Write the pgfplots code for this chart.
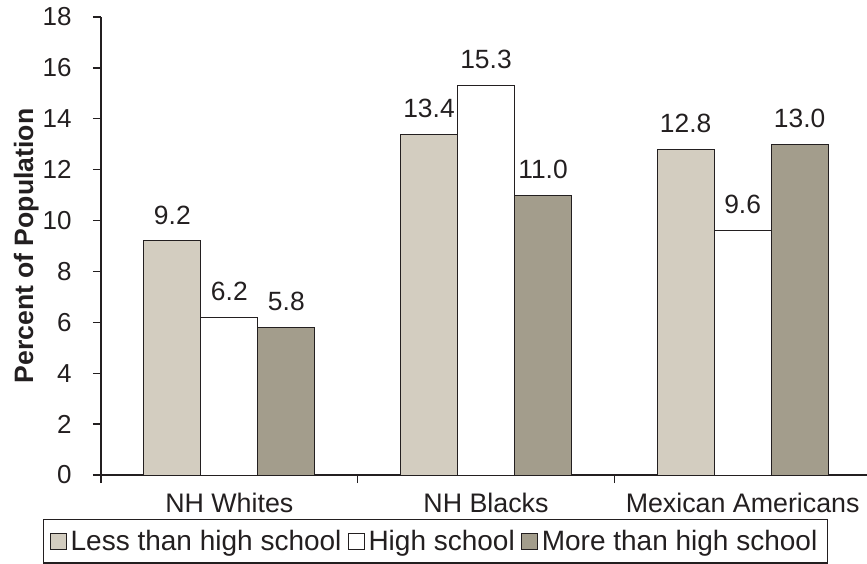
\documentclass[border=0pt]{standalone}
\usepackage{pgfplots}
\pgfplotsset{compat=1.18}
\usepackage{fontspec}
\setmainfont{Liberation Sans}
\definecolor{txt}{HTML}{231F20}
\definecolor{light}{HTML}{D3CDC0}
\definecolor{dark}{HTML}{A39D8C}
\begin{document}
\begin{tikzpicture}
\useasboundingbox (0,0) rectangle (433.5pt,281.5pt);
\begin{axis}[
  at={(50.5pt,44pt)}, anchor=south west,
  scale only axis, width=385pt, height=229pt,
  ybar=0pt, bar width=28.5pt,
  xmin=-0.5, xmax=2.5, ymin=0, ymax=18,
  axis lines*=left,
  axis line style={txt, line width=0.8pt},
  tick align=outside, major tick length=4pt,
  tick style={txt, line width=0.7pt},
  xtick={-0.5,0.5,1.5,2.5}, xticklabels={},
  extra x ticks={0,1,2},
  extra x tick labels={NH Whites,NH Blacks,Mexican Americans},
  extra x tick style={major tick length=0pt, tick style={draw=none},
    xticklabel style={anchor=north, inner sep=0pt, yshift=-9pt, font=\fontsize{13.4}{15}\selectfont, text=txt}},
  ytick={0,2,...,18},
  /pgf/number format/assume math mode=true,
  yticklabel style={anchor=east, inner sep=0pt, xshift=-10.5pt, font=\fontsize{13}{15}\selectfont, text=txt},
  ylabel={Percent of Population},
  ylabel style={at={(axis description cs:-0.097,0.5)}, anchor=center, font=\bfseries\fontsize{13.3}{16}\selectfont, text=txt},
  nodes near coords={\pgfmathprintnumber[fixed,fixed zerofill,precision=1]{\pgfplotspointmeta}},
  every node near coord/.append style={anchor=south, inner sep=0pt, yshift=8pt, font=\fontsize{13.2}{15}\selectfont, text=txt},
  legend columns=3,
  legend style={at={(axis description cs:0.4344,-0.145)}, anchor=center,
    draw=txt, line width=0.7pt, font=\fontsize{14}{16}\selectfont, text=txt,
    inner xsep=3pt, inner ysep=3pt,
    /tikz/every even column/.append style={column sep=1pt}},
  sq/.style={legend image code/.code={\draw[##1, line width=0.5pt] (0pt,-4pt) rectangle (8pt,4pt);}},
]
\addplot[fill=light, draw=txt, line width=0.5pt, sq] coordinates {(0,9.2) (1,13.4) (2,12.8)};
\addplot[fill=white, draw=txt, line width=0.5pt, sq] coordinates {(0,6.2) (1,15.3) (2,9.6)};
\addplot[fill=dark, draw=txt, line width=0.5pt, sq] coordinates {(0,5.8) (1,11.0) (2,13.0)};
\legend{Less than high school, High school, More than high school}
\end{axis}
\end{tikzpicture}
\end{document}
